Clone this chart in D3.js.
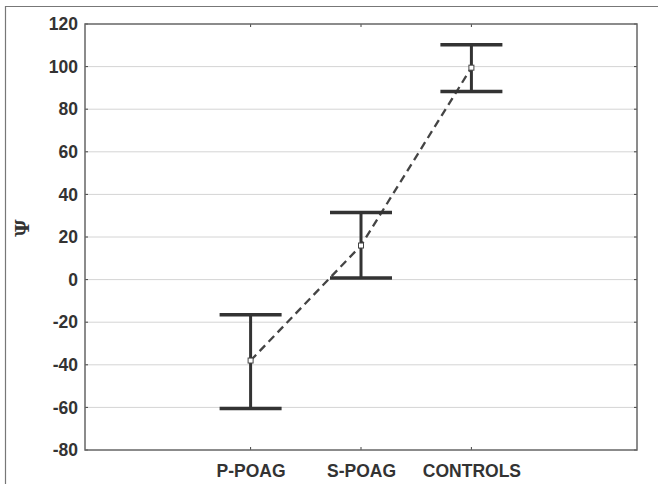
<!DOCTYPE html>
<html><head><meta charset="utf-8">
<script src="https://cdn.jsdelivr.net/npm/d3@7"></script>
<style>body{margin:0;background:#fff}svg{display:block}</style>
</head><body>
<script>
const categories = ["P-POAG", "S-POAG", "CONTROLS"];
const means = [-38, 16, 99.5];
const upper = [-16.5, 31.5, 110.3];
const lower = [-60.5, 0.7, 88.3];
const yTicks = [-80, -60, -40, -20, 0, 20, 40, 60, 80, 100, 120];

const W = 658, H = 484;
const m = {left: 85, right: 21, top: 24, bottom: 34};
const svg = d3.select("body").append("svg").attr("width", W).attr("height", H);

// outer frame
svg.append("path").attr("d", `M5.5,${H} V6.5 H${W}`).attr("fill","none").attr("stroke","#777").attr("stroke-width",1.2);

const x = d3.scalePoint().domain(categories).range([m.left, W - m.right]).padding(1.5);
const y = d3.scaleLinear().domain([-80, 120]).range([H - m.bottom, m.top]);

// grid
svg.append("g").selectAll("line").data(yTicks.slice(1, -1)).join("line")
  .attr("x1", m.left).attr("x2", W - m.right)
  .attr("y1", d => y(d)).attr("y2", d => y(d))
  .attr("stroke", "#d4d4d4").attr("stroke-width", 1);

// axes
const yAxis = d3.axisLeft(y).tickValues(yTicks).tickFormat(d => String(d)).tickSize(0).tickPadding(7);
const gy = svg.append("g").attr("transform", `translate(${m.left},0)`).call(yAxis);
gy.select(".domain").remove();
gy.selectAll("text").attr("font-family","Liberation Sans, Arial, sans-serif").attr("font-weight","bold").attr("font-size",17.5).attr("fill","#333");

const xAxis = d3.axisBottom(x).tickSize(0).tickPadding(15);
const gx = svg.append("g").attr("transform", `translate(0,${H - m.bottom})`).call(xAxis);
gx.select(".domain").remove();
gx.selectAll("text").attr("font-family","Liberation Sans, Arial, sans-serif").attr("font-weight","bold").attr("font-size",17.5).attr("fill","#333");

// inner ticks
const tk = svg.append("g").attr("stroke","#444").attr("stroke-width",1);
yTicks.forEach(t => {
  tk.append("line").attr("x1", m.left).attr("x2", m.left + 3).attr("y1", y(t)).attr("y2", y(t));
  tk.append("line").attr("x1", W - m.right - 3).attr("x2", W - m.right).attr("y1", y(t)).attr("y2", y(t));
});
categories.forEach(c => {
  tk.append("line").attr("x1", x(c)).attr("x2", x(c)).attr("y1", H - m.bottom).attr("y2", H - m.bottom - 3);
  tk.append("line").attr("x1", x(c)).attr("x2", x(c)).attr("y1", m.top).attr("y2", m.top + 3);
});

// plot frame
svg.append("rect").attr("x", m.left).attr("y", m.top)
  .attr("width", W - m.left - m.right).attr("height", H - m.top - m.bottom)
  .attr("fill","none").attr("stroke","#666").attr("stroke-width",1.5);

// y label
svg.append("text").attr("transform", `translate(29,228) rotate(-90)`)
  .attr("text-anchor","middle").attr("font-family","DejaVu Serif, serif").attr("font-weight","bold")
  .attr("font-size",19).attr("fill","#333").text("Ψ");

// dashed line
const line = d3.line().x((d,i) => x(categories[i])).y(d => y(d));
svg.append("path").attr("d", line(means)).attr("fill","none").attr("stroke","#444")
  .attr("stroke-width",2.3).attr("stroke-dasharray","8,5");

// error bars
const eb = svg.append("g").attr("stroke","#333").attr("stroke-width",3.5);
categories.forEach((c, i) => {
  eb.append("line").attr("x1", x(c)).attr("x2", x(c)).attr("y1", y(upper[i])).attr("y2", y(lower[i])).attr("stroke-width",3);
  eb.append("line").attr("x1", x(c) - 31).attr("x2", x(c) + 31).attr("y1", y(upper[i])).attr("y2", y(upper[i]));
  eb.append("line").attr("x1", x(c) - 31).attr("x2", x(c) + 31).attr("y1", y(lower[i])).attr("y2", y(lower[i]));
});

// markers
svg.append("g").selectAll("rect").data(means).join("rect")
  .attr("x", (d,i) => x(categories[i]) - 2.5).attr("y", d => y(d) - 2.5)
  .attr("width",5).attr("height",5).attr("fill","#fff").attr("stroke","#444").attr("stroke-width",1);
</script>
</body></html>
